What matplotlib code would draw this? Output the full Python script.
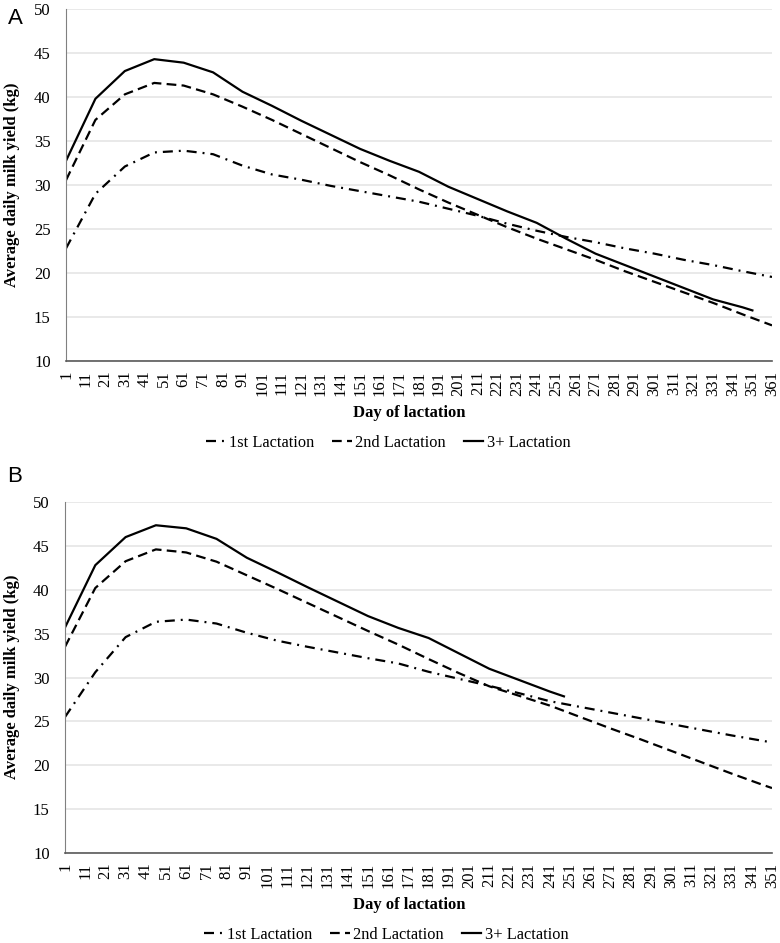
import numpy as np
import matplotlib
matplotlib.use("Agg")
import matplotlib.pyplot as plt

plt.rcParams['font.family'] = ['Liberation Serif', 'DejaVu Serif']
plt.rcParams['lines.scale_dashes'] = False

days_a = [1, 16, 31, 46, 61, 76, 91, 106, 121, 136, 151, 166, 181, 196, 211,
          226, 241, 256, 271, 286, 301, 316, 331, 346, 361]
first_a = [22.8, 29.0, 32.1, 33.7, 33.9, 33.5, 32.2, 31.2, 30.6, 29.9, 29.3,
           28.7, 28.1, 27.3, 26.5, 25.6, 24.8, 24.1, 23.5, 22.8, 22.2, 21.5,
           20.9, 20.2, 19.55]
second_a = [30.55, 37.4, 40.3, 41.6, 41.3, 40.3, 38.9, 37.4, 35.8, 34.2, 32.6,
            31.1, 29.5, 28.0, 26.6, 25.2, 23.9, 22.7, 21.5, 20.2, 19.0, 17.8,
            16.6, 15.3, 14.05]
days_a3 = days_a[:-1] + [351]
third_a = [32.75, 39.8, 42.95, 44.3, 43.9, 42.8, 40.6, 39.0, 37.3, 35.7, 34.1,
           32.75, 31.5, 29.8, 28.4, 27.0, 25.7, 23.9, 22.2, 20.9, 19.6, 18.3,
           17.0, 16.1, 15.75]

# Panel B
days_b = [1, 16, 31, 46, 61, 76, 91, 106, 121, 136, 151, 166, 181, 196, 211,
          226, 241, 256, 271, 286, 301, 316, 331, 346, 351]
first_b = [25.5, 30.6, 34.6, 36.35, 36.6, 36.15, 35.1, 34.2, 33.5, 32.85, 32.2,
           31.6, 30.65, 29.85, 29.05, 28.2, 27.3, 26.65, 26.0, 25.35, 24.7,
           24.05, 23.4, 22.8, 22.6]
second_b = [33.5, 40.2, 43.25, 44.6, 44.25, 43.2, 41.65, 40.1, 38.5, 36.9,
            35.3, 33.75, 32.1, 30.5, 29.0, 27.9, 26.8, 25.5, 24.2, 22.95, 21.65,
            20.35, 19.05, 17.8, 17.4]
days_b3 = [1, 16, 31, 46, 61, 76, 91, 106, 121, 136, 151, 166, 181, 196, 211,
           226, 241, 248]
third_b = [35.7, 42.8, 46.0, 47.35, 47.0, 45.8, 43.65, 42.0, 40.3, 38.65, 37.0,
           35.65, 34.5, 32.75, 31.0, 29.7, 28.4, 27.85]

xticks_a = list(range(1, 362, 10))
xticks_b = list(range(1, 352, 10))
labels = ['1st Lactation', '2nd Lactation', '3+ Lactation']

fig = plt.figure(figsize=(7.8, 9.43), dpi=100)
W, H = 780.0, 943.0

dashdot = (0, (7.2, 4.3, 1.4, 4.3))
dashed = (0, (7.0, 3.8))


def panel(rect, days, d3, s1, s2, s3, xticks):
    ax = fig.add_axes(rect)
    l1, = ax.plot(days, s1, color='black', lw=1.6, linestyle=dashdot)
    l2, = ax.plot(days, s2, color='black', lw=1.6, linestyle=dashed)
    l3, = ax.plot(d3, s3, color='black', lw=1.6, linestyle='-')
    ax.set_xlim(xticks[0], xticks[-1])
    ax.set_ylim(10, 50)
    ax.set_yticks(range(10, 51, 5))
    ax.set_xticks(xticks)
    ax.set_xticklabels([str(t) for t in xticks], rotation=90)
    ax.tick_params(length=0, labelsize=12, colors='black')
    ax.tick_params(axis='x', pad=7)
    ax.tick_params(axis='y', pad=11)
    ax.grid(axis='y', color='#e3e3e3', lw=1.1)
    ax.set_axisbelow(True)
    for s in ['top', 'right']:
        ax.spines[s].set_visible(False)
    ax.spines['left'].set_color('#808080')
    ax.spines['bottom'].set_color('#595959')
    ax.spines['bottom'].set_linewidth(1.2)
    return ax, [l1, l2, l3]


ax1, h1 = panel([66 / W, 1 - 361 / H, 706 / W, 352 / H],
                days_a, days_a3, first_a, second_a, third_a, xticks_a)
ax2, h2 = panel([65 / W, 1 - 853 / H, 707 / W, 351 / H],
                days_b, days_b3, first_b, second_b, third_b, xticks_b)

for yc, xl_y, letter, let_y in [(185, 413, 'A', 18), (677, 905, 'B', 476)]:
    fig.text(12 / W, 1 - yc / H, 'Average daily milk yield (kg)', rotation=90,
             ha='center', va='center', fontsize=12, fontweight='bold')
    fig.text(409 / W, 1 - xl_y / H, 'Day of lactation', ha='center',
             va='center', fontsize=12, fontweight='bold')
    fig.text(15 / W, 1 - let_y / H, letter, ha='center', va='center',
             fontsize=16, family=['Liberation Sans', 'DejaVu Sans'])

for h, cx, cy in [(h1, 388, 443), (h2, 386, 935)]:
    fig.legend(h, labels, loc='center', bbox_to_anchor=(cx / W, 1 - cy / H),
               ncol=3, frameon=False, fontsize=11.8, handlelength=1.2,
               handletextpad=0.2, columnspacing=1.1)

fig.savefig('out.png', dpi=100)
